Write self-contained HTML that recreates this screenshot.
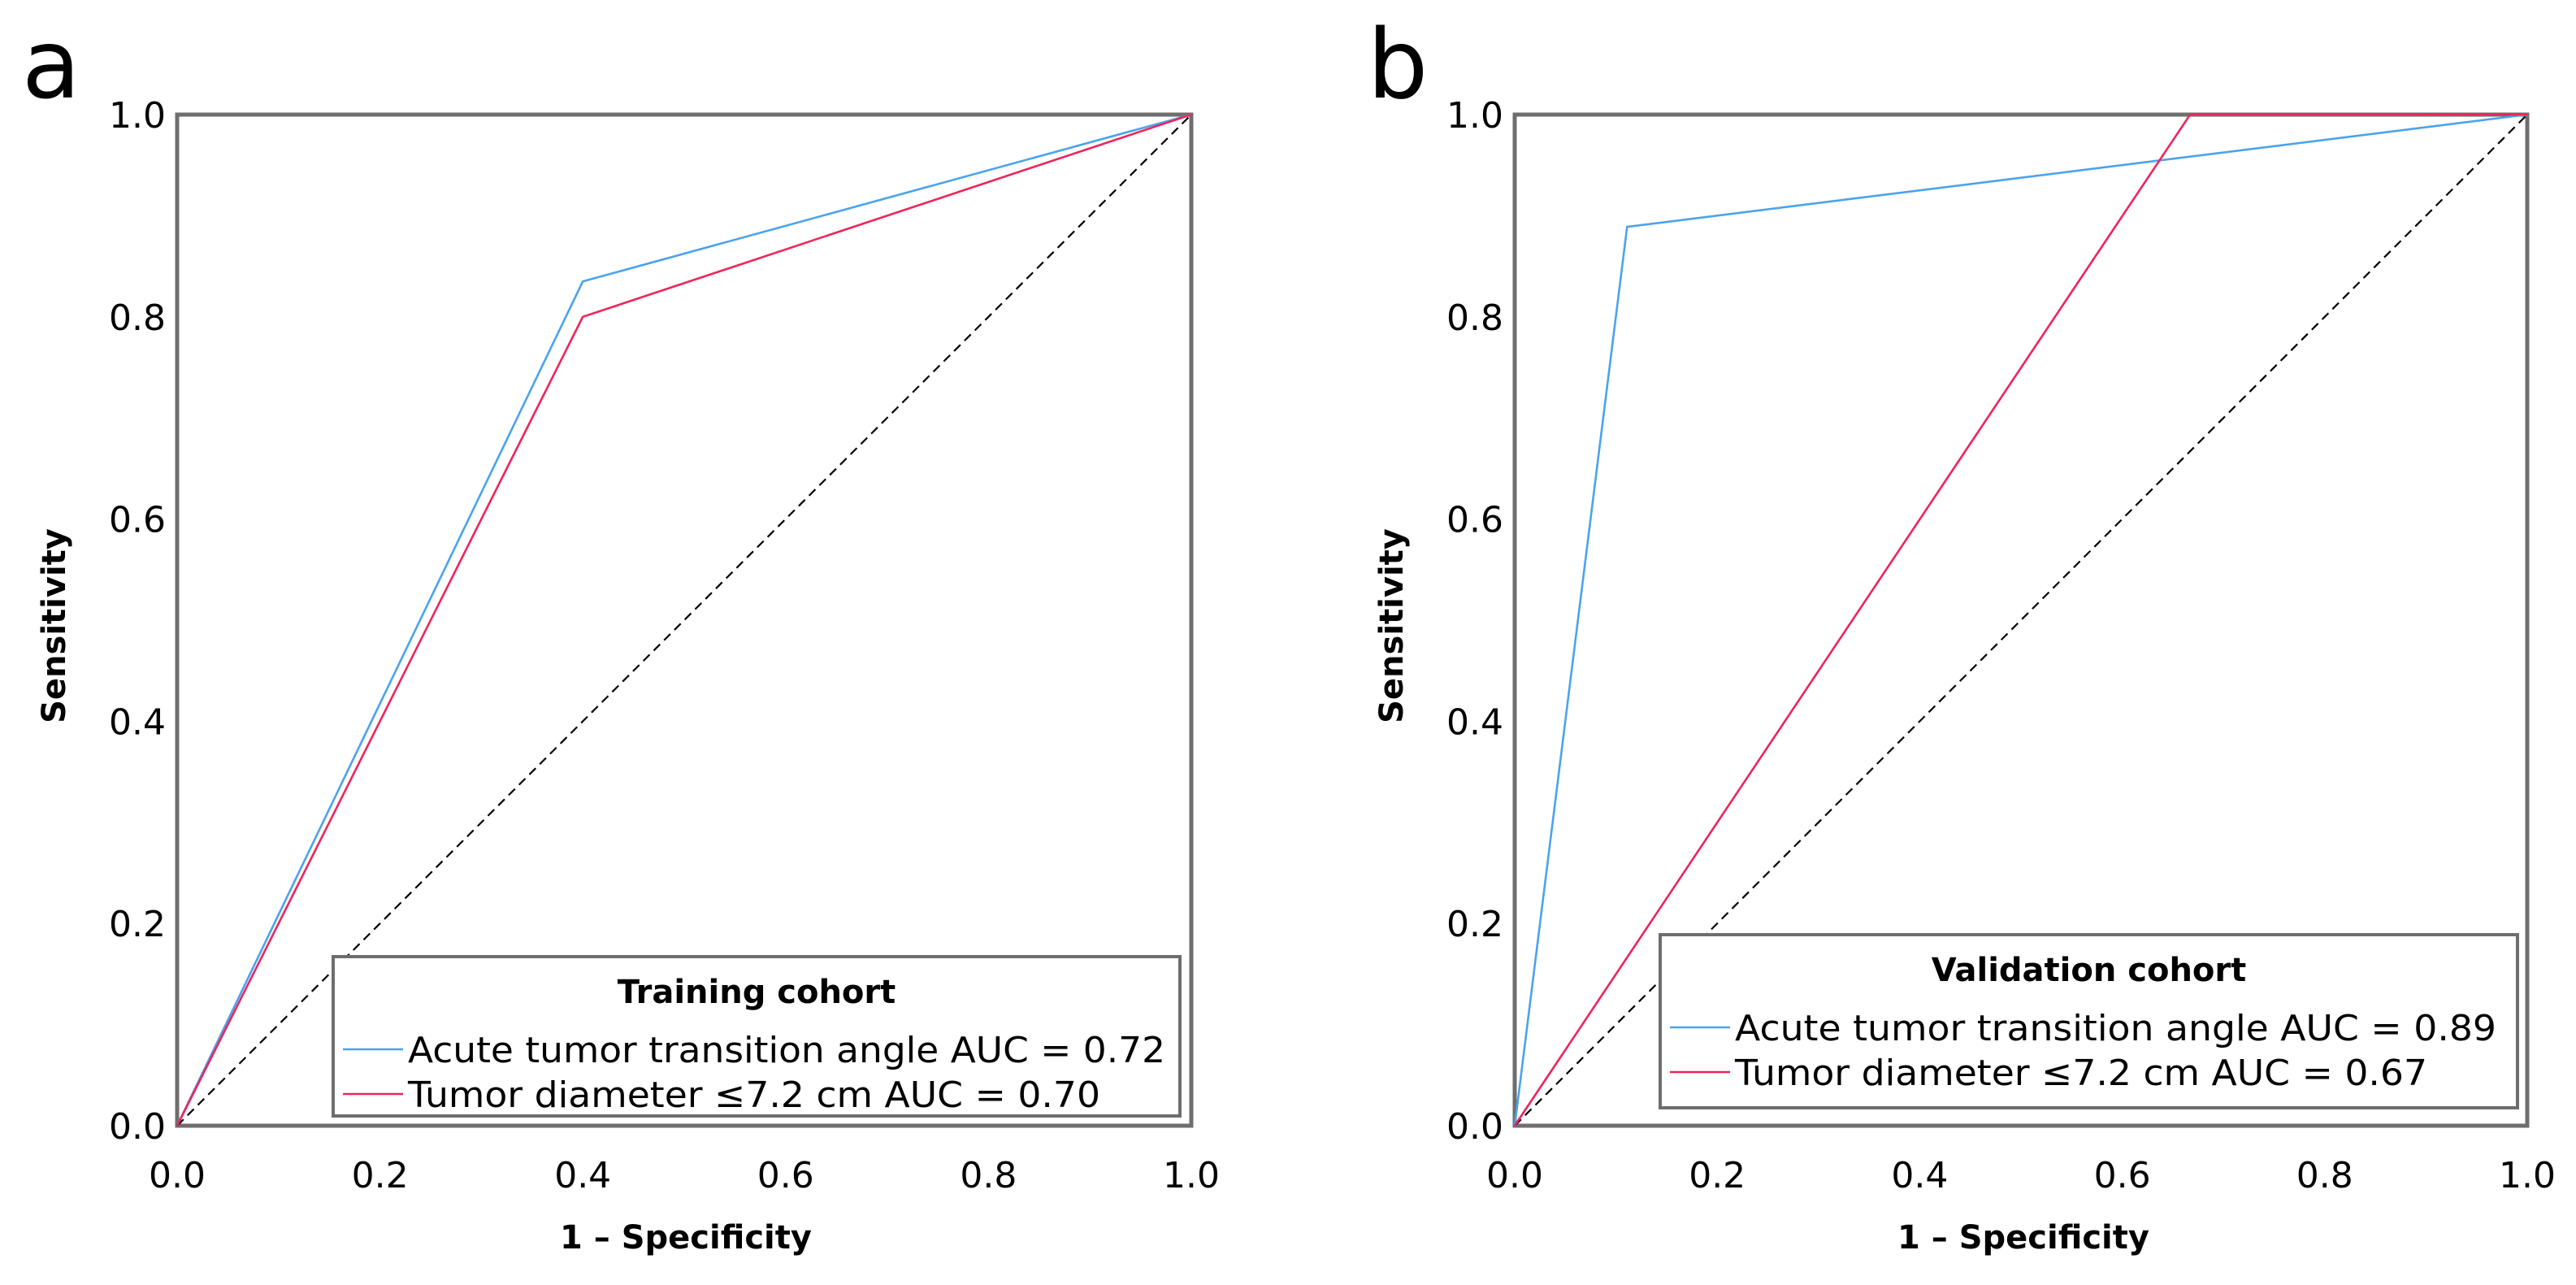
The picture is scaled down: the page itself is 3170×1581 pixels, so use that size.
<!DOCTYPE html>
<html><head><meta charset="utf-8"><style>
html,body{margin:0;padding:0;background:#fff;}
svg{display:block;}
text{font-family:"DejaVu Sans","Liberation Sans",sans-serif;fill:#000;}
</style></head><body>
<svg id="chart" width="3170" height="1581" viewBox="0 0 3170 1581" xmlns="http://www.w3.org/2000/svg"></svg>
<script>
const ticks = [0, 0.2, 0.4, 0.6, 0.8, 1.0];
const tickLabels = ["0.0", "0.2", "0.4", "0.6", "0.8", "1.0"];
const trainAngleX = [0, 0.4, 1];
const trainAngleY = [0, 0.835, 1];
const trainDiamX = [0, 0.4, 1];
const trainDiamY = [0, 0.80, 1];
const valAngleX = [0, 0.111, 1];
const valAngleY = [0, 0.889, 1];
const valDiamX = [0, 0.667, 1];
const valDiamY = [0, 1, 1];
const trainLabels = ["Acute tumor transition angle AUC = 0.72", "Tumor diameter \u22647.2 cm AUC = 0.70"];
const valLabels = ["Acute tumor transition angle AUC = 0.89", "Tumor diameter \u22647.2 cm AUC = 0.67"];

const NS = "http://www.w3.org/2000/svg";
const svg = document.getElementById("chart");
function mk(tag, attrs, parent, txt) {
  const e = document.createElementNS(NS, tag);
  for (const k in attrs) e.setAttribute(k, attrs[k]);
  if (txt !== undefined) e.textContent = txt;
  (parent || svg).appendChild(e);
  return e;
}
const BLUE = "#4aa3ee", RED = "#f0245a";

function panel(cfg) {
  const g = mk("g", {});
  
  
  const x0 = cfg.x0, x1 = cfg.x1, y0 = 1385, y1 = 141;
  const sx = v => x0 + v * (x1 - x0);
  const sy = v => y0 - v * (y0 - y1);
  const L = mk("text", {x: cfg.letterX, y: 120, "font-size": 118, "text-anchor": "middle"}, g, cfg.letter);
  
  
  const f = mk("rect", {x: x0, y: y1, width: x1 - x0, height: y0 - y1, fill: "none", stroke: "#6e6e6e", "stroke-width": 5}, g);
  
  
  const d = mk("line", {x1: sx(0), y1: sy(0), x2: sx(1), y2: sy(1), stroke: "#000", "stroke-width": 2.2, "stroke-dasharray": "11 7"}, g);
  
  
  cfg.series.forEach((s, i) => {
    const pts = s.x.map((v, j) => sx(v) + "," + sy(s.y[j])).join(" ");
    const p = mk("polyline", {points: pts, fill: "none", stroke: s.color, "stroke-width": 2.6}, g);
    
    
  });
  ticks.forEach((t, i) => {
    const ty = mk("text", {x: x0 - 14, y: sy(t) + 16, "font-size": 44, "text-anchor": "end"}, g, tickLabels[i]);
    
    
    const tx = mk("text", {x: sx(t), y: 1461, "font-size": 44, "text-anchor": "middle"}, g, tickLabels[i]);
    
    
  });
  const yt = mk("text", {x: 0, y: 0, "font-size": 40, "font-weight": "bold", "text-anchor": "middle", transform: "translate(" + (cfg.ytX + 30) + ",770) rotate(-90)"}, g, "Sensitivity");
  
  
  const xt = mk("text", {x: cfg.xtX, y: 1536, "font-size": 40, "font-weight": "bold", "text-anchor": "middle"}, g, "1 \u2013 Specificity");
  
  
  const lg = mk("g", {}, g);
  
  
  const lb = mk("rect", {x: cfg.lx, y: cfg.ly, width: cfg.lw, height: cfg.lh, fill: "#fff", stroke: "#6e6e6e", "stroke-width": 4}, lg);
  
  
  const lt = mk("text", {x: cfg.lx + cfg.lw / 2, y: cfg.ly + 57, "font-size": 40, "font-weight": "bold", "text-anchor": "middle"}, lg, cfg.title);
  
  
  cfg.series.forEach((s, i) => {
    const cy = cfg.ly + 114 + i * 55;
    const ln = mk("line", {x1: cfg.lx + 12, y1: cy, x2: cfg.lx + 86, y2: cy, stroke: s.color, "stroke-width": 2.6}, lg);
    
    
    const tx = mk("text", {x: cfg.lx + 92, y: cy + 16, "font-size": 44, textLength: s.tl, lengthAdjust: "spacingAndGlyphs"}, lg, cfg.labels[i]);
    
    
  });
}

panel({id: "training", letter: "a", letterX: 63, x0: 218, x1: 1466, ytX: 50, xtX: 844,
  lx: 410, ly: 1177, lw: 1042, lh: 196, title: "Training cohort", labels: trainLabels,
  series: [{name: "training-angle-curve", x: trainAngleX, y: trainAngleY, color: BLUE, tl: 932},
           {name: "training-diameter-curve", x: trainDiamX, y: trainDiamY, color: RED, tl: 852}]});
panel({id: "validation", letter: "b", letterX: 1720, x0: 1864, x1: 3110, ytX: 1696, xtX: 2490,
  lx: 2043, ly: 1150, lw: 1055, lh: 213, title: "Validation cohort", labels: valLabels,
  series: [{name: "validation-angle-curve", x: valAngleX, y: valAngleY, color: BLUE, tl: 937},
           {name: "validation-diameter-curve", x: valDiamX, y: valDiamY, color: RED, tl: 852}]});
</script>
</body></html>
